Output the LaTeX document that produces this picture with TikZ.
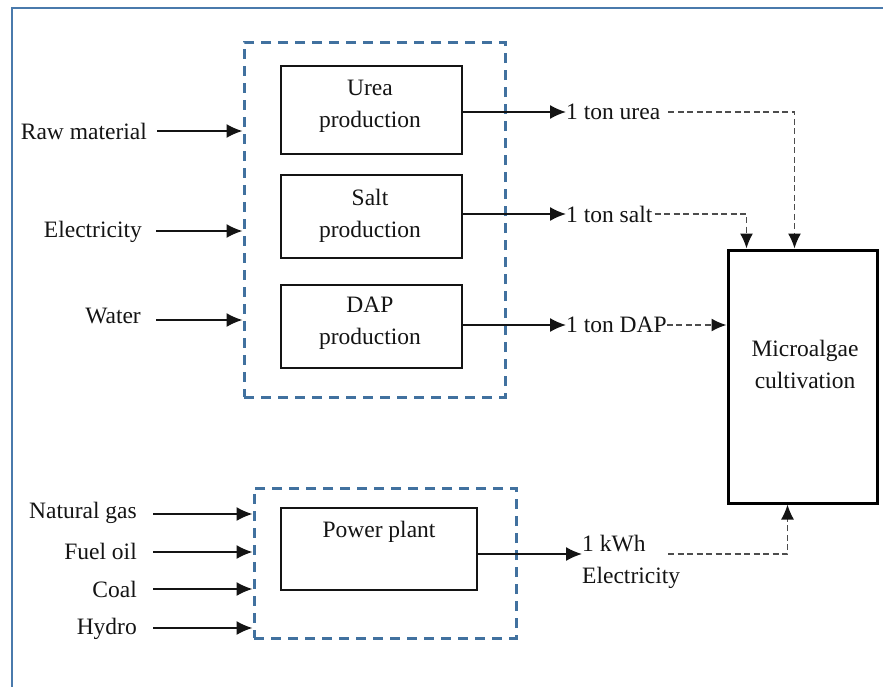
\documentclass[tikz,border=0pt]{standalone}
\usepackage{fontspec}
\setmainfont{Liberation Serif}
\usetikzlibrary{arrows.meta,calc}
\definecolor{frameblue}{HTML}{4A7AAC}
\definecolor{groupblue}{HTML}{41719F}
\definecolor{linkgray}{HTML}{4D4D4D}
\definecolor{inkblack}{HTML}{141414}
\begin{document}
\begin{tikzpicture}[x=1pt,y=-1pt,
  txt/.style={font=\fontsize{23.5}{32}\selectfont, inner sep=0pt, text=inkblack, align=center},
  procbox/.style={draw=inkblack, line width=1.6pt, minimum width=181pt},
  groupbox/.style={draw=groupblue, line width=3pt, dash pattern=on 10pt off 7pt},
  flow/.style={draw=inkblack, line width=1.6pt, -{Latex[length=16pt,width=14pt]}},
  link/.style={draw=linkgray, line width=1.5pt, dash pattern=on 6pt off 3.5pt,
    -{Latex[length=15pt,width=13pt,color=inkblack]}},
]
\useasboundingbox (0,0) rectangle (883,686);
\clip (0,0) rectangle (883,686);
\fill[white] (0,0) rectangle (883,686);

% page frame
\draw[frameblue, line width=2.6pt] (12,700) -- (12,8) -- (900,8);

% fertiliser group
\node[groupbox, minimum width=261pt, minimum height=355pt] (fert) at (374.5,219.5) {};
\node[procbox, minimum height=88pt] (urea) at (371.5,110) {};
\node[txt] (ureatxt) at (370,106) {Urea\\production};
\node[procbox, minimum height=83pt] (salt) at (371.5,216.5) {};
\node[txt] (salttxt) at (370,216) {Salt\\production};
\node[procbox, minimum height=83pt] (dap) at (371.5,326.5) {};
\node[txt] (daptxt) at (370,323.5) {DAP\\production};

% power group
\node[groupbox, minimum width=262pt, minimum height=150pt] (power) at (385,563) {};
\node[procbox, minimum width=196pt, minimum height=82pt] (plant) at (379,549) {};
\node[txt] (planttxt) at (379,532) {Power plant};

% cultivation
\node[draw=black, line width=3pt, minimum width=149pt, minimum height=253pt] (algae) at (802.5,376.5) {};
\node[txt] (algaetxt) at (805,364) {Microalgae\\cultivation};

% inputs to the fertiliser group
\node[txt, anchor=east] (raw) at (147,131) {Raw material};
\node[txt, anchor=east] (elec) at (142,232) {Electricity};
\node[txt, anchor=east] (water) at (141,316) {Water};
\draw[flow] ([xshift=10pt]raw.east |- 0,131) -- (fert.west |- 0,131);
\draw[flow] ([xshift=14pt]elec.east |- 0,231) -- (fert.west |- 0,231);
\draw[flow] ([xshift=15pt]water.east |- 0,320) -- (fert.west |- 0,320);

% inputs to the power group
\node[txt, anchor=east] (gas) at (137,513) {Natural gas};
\node[txt, anchor=east] (oil) at (137,551) {Fuel oil};
\node[txt, anchor=east] (coal) at (137,589) {Coal};
\node[txt, anchor=east] (hydro) at (137,629) {Hydro};
\draw[flow] (153,514) -- (power.west |- 0,514);
\draw[flow] (153,552) -- (power.west |- 0,552);
\draw[flow] (153,589) -- (power.west |- 0,589);
\draw[flow] (153,628) -- (power.west |- 0,628);

% products
\node[txt, anchor=west] (ureaout) at (566,112) {1 ton urea};
\node[txt, anchor=west] (saltout) at (566,214) {1 ton salt};
\node[txt, anchor=west] (dapout) at (566,325) {1 ton DAP};
\node[txt, anchor=north west, align=left] (kwh) at (582,535) {1 kWh\\Electricity};
\draw[flow] (urea.east |- ureaout.west) -- (ureaout.west);
\draw[flow] (salt.east |- saltout.west) -- (saltout.west);
\draw[flow] (dap.east |- dapout.west) -- (dapout.west);
\draw[flow] (plant.east |- 0,554) -- (kwh.west |- 0,554);

% product links into cultivation
\coordinate (ureadrop) at ([xshift=68pt]algae.north west);
\coordinate (saltdrop) at ([xshift=20pt]algae.north west);
\coordinate (kwhrise) at ([xshift=61pt]algae.south west);
\draw[link] ([xshift=8pt]ureaout.east) -| (ureadrop);
\draw[link] ([xshift=2pt]saltout.east) -| (saltdrop);
\draw[link] (dapout.east) -- (algae.west |- dapout.east);
\draw[link] (668,554) -| (kwhrise);
\end{tikzpicture}
\end{document}
